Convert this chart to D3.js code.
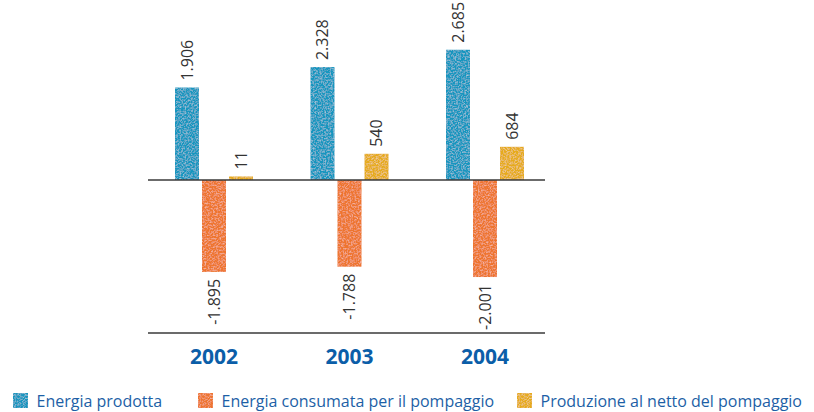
<!DOCTYPE html>
<html>
<head>
<meta charset="utf-8">
<script src="https://cdn.jsdelivr.net/npm/d3@7"></script>
<style>
  html, body { margin: 0; padding: 0; background: #fff; }
  svg { display: block; }
</style>
</head>
<body>
<svg id="chart" width="814" height="412"></svg>
<script>
// Pumped-storage energy balance, 2002–2004
const years = ["2002", "2003", "2004"];
const seriesNames = [
  "Energia prodotta",
  "Energia consumata per il pompaggio",
  "Produzione al netto del pompaggio"
];
const energiaProdotta = [1906, 2328, 2685];
const energiaConsumata = [-1895, -1788, -2001];
const produzioneNetta = [11, 540, 684];
const seriesValues = [energiaProdotta, energiaConsumata, produzioneNetta];
const seriesColors = ["#1396bf", "#ee752e", "#e6ab1e"];

// Italian number formatting: dot as thousands separator, plain hyphen minus
const itLocale = d3.formatLocale({ decimal: ",", thousands: ".", grouping: [3], currency: ["€", ""], minus: "-" });
const fmt = itLocale.format(",d");

const svg = d3.select("#chart");

// soft mottled crayon-like fill texture for the bars
const defs = svg.append("defs");
const grain = defs.append("filter").attr("id", "grain")
  .attr("filterUnits", "userSpaceOnUse")
  .attr("x", 0).attr("y", 0).attr("width", 814).attr("height", 412);
grain.append("feTurbulence").attr("type", "fractalNoise")
  .attr("baseFrequency", 0.6).attr("numOctaves", 3).attr("seed", 11).attr("result", "noise");
grain.append("feColorMatrix").attr("in", "noise").attr("type", "matrix")
  .attr("values", "0 0 0 0 1  0 0 0 0 1  0 0 0 0 1  0.8 0 0 0 -0.34")
  .attr("result", "speck");
grain.append("feComposite").attr("in", "speck").attr("in2", "SourceGraphic")
  .attr("operator", "in").attr("result", "speckIn");
const merge = grain.append("feMerge");
merge.append("feMergeNode").attr("in", "SourceGraphic");
merge.append("feMergeNode").attr("in", "speckIn");

// scales
const x = d3.scaleBand().domain(years).range([146.25, 552.75]).padding(0);
const xs = d3.scaleBand().domain(seriesNames).range([-40.5, 40.5])
  .paddingInner(0.111).paddingOuter(0.0555);
const y = d3.scaleLinear().domain([-3155, 3711]).range([333, 0]);

const lineX0 = 148, lineX1 = 545;
const minBarPx = 3.5; // keep very small values visible

// bars
const barData = [];
years.forEach((yr, i) => {
  seriesNames.forEach((s, j) => {
    barData.push({ year: yr, series: s, value: seriesValues[j][i], color: seriesColors[j] });
  });
});

const cx = d => x(d.year) + x.bandwidth() / 2 + xs(d.series);
const barH = d => Math.max(minBarPx, Math.abs(y(d.value) - y(0)));
const barTop = d => d.value >= 0 ? y(0) - barH(d) : y(0);
const barEnd = d => d.value >= 0 ? y(0) - barH(d) : y(0) + barH(d);

svg.append("g").attr("filter", "url(#grain)")
  .selectAll("rect").data(barData).join("rect")
  .attr("x", cx)
  .attr("width", xs.bandwidth())
  .attr("y", barTop)
  .attr("height", barH)
  .attr("fill", d => d.color);

// zero line and baseline
svg.append("line").attr("x1", lineX0).attr("x2", lineX1)
  .attr("y1", y(0)).attr("y2", y(0))
  .attr("stroke", "#3a3a3a").attr("stroke-width", 1.3);
svg.append("line").attr("x1", lineX0).attr("x2", lineX1)
  .attr("y1", y.range()[0]).attr("y2", y.range()[0])
  .attr("stroke", "#3a3a3a").attr("stroke-width", 1.3);

// value labels, rotated
const gap = 7;
svg.append("g").selectAll("text").data(barData).join("text")
  .attr("transform", d => {
    const px = cx(d) + xs.bandwidth() / 2 + 5.5;
    const py = d.value >= 0 ? barEnd(d) - gap : barEnd(d) + gap;
    return `translate(${px},${py}) rotate(-90)`;
  })
  .attr("text-anchor", d => d.value >= 0 ? "start" : "end")
  .attr("font-family", "'Open Sans', sans-serif")
  .attr("font-size", 16)
  .attr("fill", "#333")
  .text(d => fmt(d.value));

// category axis labels
svg.append("g").selectAll("text").data(years).join("text")
  .attr("x", d => x(d) + x.bandwidth() / 2)
  .attr("y", 364)
  .attr("text-anchor", "middle")
  .attr("font-family", "'Open Sans', sans-serif")
  .attr("font-weight", "bold")
  .attr("font-size", 21)
  .attr("fill", "#0b5ea8")
  .text(d => d);

// legend
const legendX = [13, 198, 517];
const legend = svg.append("g").selectAll("g").data(seriesNames).join("g")
  .attr("transform", (d, i) => `translate(${legendX[i]},393)`);
legend.append("rect")
  .attr("width", 15).attr("height", 15)
  .attr("fill", (d, i) => seriesColors[i])
  .attr("filter", "url(#grain)");
legend.append("text")
  .attr("x", 23.5).attr("y", 14)
  .attr("font-family", "'Open Sans', sans-serif")
  .attr("font-size", 16)
  .attr("fill", "#1d5fa6")
  .text(d => d);
</script>
</body>
</html>
